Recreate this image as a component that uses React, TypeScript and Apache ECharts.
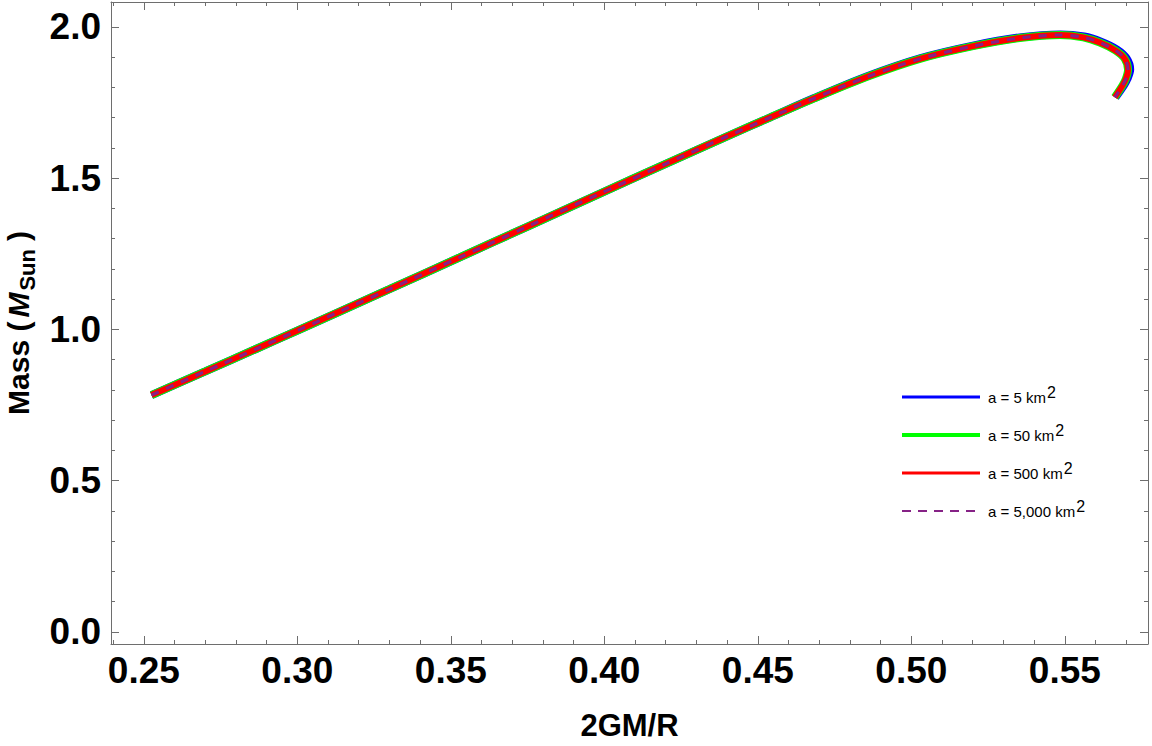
import React, { useEffect, useRef } from 'react';
import * as echarts from 'echarts';

const seriesNames = ['a = 5 km²', 'a = 50 km²', 'a = 500 km²', 'a = 5,000 km²'];

const compactnessA5 = [0.2525, 0.2700, 0.2867, 0.3000, 0.3138, 0.3300, 0.3529, 0.3750, 0.3975, 0.4200, 0.4400, 0.4539, 0.4680, 0.4854, 0.5028, 0.5201, 0.5353, 0.5486, 0.5563, 0.5618, 0.5670, 0.5701, 0.5713, 0.5704, 0.5692, 0.5665];
const massA5 = [0.783, 0.861, 0.936, 0.996, 1.059, 1.133, 1.238, 1.340, 1.444, 1.547, 1.638, 1.700, 1.763, 1.836, 1.896, 1.938, 1.965, 1.975, 1.968, 1.951, 1.925, 1.896, 1.859, 1.828, 1.806, 1.767];

const compactnessA50 = [0.2525, 0.2700, 0.2867, 0.3000, 0.3138, 0.3300, 0.3529, 0.3750, 0.3975, 0.4200, 0.4400, 0.4539, 0.4680, 0.4854, 0.5028, 0.5201, 0.5353, 0.5484, 0.5560, 0.5614, 0.5665, 0.5695, 0.5706, 0.5699, 0.5688, 0.5663];
const massA50 = [0.783, 0.861, 0.936, 0.996, 1.059, 1.133, 1.238, 1.340, 1.444, 1.547, 1.638, 1.700, 1.762, 1.834, 1.894, 1.936, 1.963, 1.973, 1.965, 1.948, 1.922, 1.895, 1.858, 1.828, 1.806, 1.767];

const compactnessA500 = [0.2525, 0.2700, 0.2867, 0.3000, 0.3138, 0.3300, 0.3529, 0.3750, 0.3975, 0.4200, 0.4400, 0.4539, 0.4680, 0.4854, 0.5028, 0.5201, 0.5353, 0.5484, 0.5560, 0.5614, 0.5665, 0.5695, 0.5706, 0.5699, 0.5688, 0.5663];
const massA500 = [0.783, 0.861, 0.936, 0.996, 1.059, 1.133, 1.238, 1.340, 1.444, 1.547, 1.638, 1.700, 1.762, 1.834, 1.894, 1.936, 1.963, 1.973, 1.965, 1.948, 1.922, 1.895, 1.858, 1.828, 1.806, 1.767];

const compactnessA5000 = [0.2525, 0.2700, 0.2867, 0.3000, 0.3138, 0.3300, 0.3529, 0.3750, 0.3975, 0.4200, 0.4400, 0.4539, 0.4680, 0.4854, 0.5028, 0.5201, 0.5353, 0.5484, 0.5560, 0.5614, 0.5665, 0.5695, 0.5706, 0.5699, 0.5688, 0.5663];
const massA5000 = [0.783, 0.861, 0.936, 0.996, 1.059, 1.133, 1.238, 1.340, 1.444, 1.547, 1.638, 1.700, 1.762, 1.834, 1.894, 1.936, 1.963, 1.973, 1.965, 1.948, 1.922, 1.895, 1.858, 1.828, 1.806, 1.767];

const xMajorTicks = [0.25, 0.30, 0.35, 0.40, 0.45, 0.50, 0.55];
const xMinorTicks = [0.24, 0.26, 0.27, 0.28, 0.29, 0.31, 0.32, 0.33, 0.34, 0.36, 0.37, 0.38, 0.39, 0.41, 0.42, 0.43, 0.44, 0.46, 0.47, 0.48, 0.49, 0.51, 0.52, 0.53, 0.54, 0.56, 0.57];
const yMajorTicks = [0.0, 0.5, 1.0, 1.5, 2.0];
const yMinorTicks = [0.1, 0.2, 0.3, 0.4, 0.6, 0.7, 0.8, 0.9, 1.1, 1.2, 1.3, 1.4, 1.6, 1.7, 1.8, 1.9];

const X_MIN = 0.2393;
const X_MAX = 0.5771;
const Y_MIN = -0.0397;
const Y_MAX = 2.082;

const FONT = 'Liberation Sans, Arial, sans-serif';
const FRAME = '#6e6e6e';

const zip = (xs: number[], ys: number[]) => xs.map((x, i) => [x, ys[i]]);

function xAxisDef(position: 'top' | 'bottom', ticks: number[], len: number, main: boolean, labels: boolean) {
  return {
    type: 'value',
    position,
    min: X_MIN,
    max: X_MAX,
    splitLine: { show: false },
    axisLine: { show: main, onZero: false, lineStyle: { color: FRAME, width: 1 } },
    axisTick: { show: true, inside: true, length: len, customValues: ticks, lineStyle: { color: FRAME, width: 1 } },
    axisLabel: labels
      ? {
          show: true,
          customValues: ticks,
          margin: 8,
          formatter: (v: number) => v.toFixed(2),
          fontFamily: FONT,
          fontSize: 37,
          fontWeight: 'bold',
          color: '#000',
        }
      : { show: false },
    ...(labels
      ? {
          name: '2GM/R',
          nameLocation: 'middle',
          nameGap: 66,
          nameTextStyle: { fontFamily: FONT, fontSize: 31, fontWeight: 'bold', color: '#000' },
        }
      : {}),
  };
}

function yAxisDef(position: 'left' | 'right', ticks: number[], len: number, main: boolean, labels: boolean) {
  return {
    type: 'value',
    position,
    min: Y_MIN,
    max: Y_MAX,
    splitLine: { show: false },
    axisLine: { show: main, onZero: false, lineStyle: { color: FRAME, width: 1 } },
    axisTick: { show: true, inside: true, length: len, customValues: ticks, lineStyle: { color: FRAME, width: 1 } },
    axisLabel: labels
      ? {
          show: true,
          customValues: ticks,
          margin: 10,
          formatter: (v: number) => v.toFixed(1),
          fontFamily: FONT,
          fontSize: 37,
          fontWeight: 'bold',
          color: '#000',
        }
      : { show: false },
    ...(labels
      ? {
          name: '{m|Mass (}{i|M}{s|Sun}{m|)}',
          nameLocation: 'middle',
          nameRotate: 90,
          nameGap: 78,
          nameTextStyle: {
            fontFamily: FONT,
            fontSize: 30,
            fontWeight: 'bold',
            color: '#000',
            rich: {
              m: { fontFamily: FONT, fontSize: 30, fontWeight: 'bold', color: '#000', lineHeight: 30, verticalAlign: 'top' },
              i: { fontFamily: FONT, fontSize: 30, fontWeight: 'bold', fontStyle: 'italic', color: '#000', lineHeight: 30, verticalAlign: 'top', padding: [0, 2, 0, 4] },
              s: { fontFamily: FONT, fontSize: 22, fontWeight: 'bold', color: '#000', lineHeight: 22, verticalAlign: 'top', padding: [13, 8, 0, 0] },
            },
          },
        }
      : {}),
  };
}

const hiddenMarker = { color: 'rgba(0,0,0,0)', borderWidth: 0, opacity: 0 };

export default function App() {
  const ref = useRef<HTMLDivElement>(null);

  useEffect(() => {
    if (!ref.current) return;
    const chart = echarts.init(ref.current, undefined, { renderer: 'svg' });

    const option = {
      animation: false,
      backgroundColor: '#ffffff',
      grid: {
        left: 111,
        top: 2,
        width: 1037,
        height: 642,
        containLabel: false,
        outerBoundsMode: 'none',
      },
      xAxis: [
        xAxisDef('bottom', xMajorTicks, 8, true, true),
        xAxisDef('bottom', xMinorTicks, 4, false, false),
        xAxisDef('top', xMajorTicks, 8, true, false),
        xAxisDef('top', xMinorTicks, 4, false, false),
      ],
      yAxis: [
        yAxisDef('left', yMajorTicks, 8, true, true),
        yAxisDef('left', yMinorTicks, 4, false, false),
        yAxisDef('right', yMajorTicks, 8, true, false),
        yAxisDef('right', yMinorTicks, 4, false, false),
      ],
      legend: {
        orient: 'vertical',
        left: 900,
        top: 384,
        padding: 0,
        itemWidth: 78,
        itemHeight: 14,
        itemGap: 17,
        selectedMode: false,
        formatter: (name: string) => '{t|' + name.replace('²', '') + '}{s|2}',
        textStyle: {
          fontFamily: FONT,
          fontSize: 15,
          color: '#000',
          rich: {
            t: { fontFamily: FONT, fontSize: 15, color: '#000', verticalAlign: 'bottom', lineHeight: 16, padding: [0, 0, 0, 3] },
            s: { fontFamily: FONT, fontSize: 16, color: '#000', verticalAlign: 'bottom', lineHeight: 16, padding: [0, 0, 5, 1] },
          },
        },
        data: [
          { name: seriesNames[0], itemStyle: hiddenMarker, lineStyle: { width: 3, color: '#0000ff', type: 'solid' } },
          { name: seriesNames[1], itemStyle: hiddenMarker, lineStyle: { width: 4, color: '#00ff00', type: 'solid' } },
          { name: seriesNames[2], itemStyle: hiddenMarker, lineStyle: { width: 3, color: '#ff0000', type: 'solid' } },
          { name: seriesNames[3], itemStyle: hiddenMarker, lineStyle: { width: 2, color: '#862286', type: [9, 7] } },
        ],
      },
      series: [
        {
          name: seriesNames[0],
          type: 'line',
          xAxisIndex: 0,
          yAxisIndex: 0,
          data: zip(compactnessA5, massA5),
          showSymbol: false,
          symbol: 'none',
          smooth: 0.3,
          lineStyle: { color: '#0000ff', width: 8 },
          itemStyle: { color: '#0000ff' },
          z: 1,
        },
        {
          name: seriesNames[1],
          type: 'line',
          xAxisIndex: 0,
          yAxisIndex: 0,
          data: zip(compactnessA50, massA50),
          showSymbol: false,
          symbol: 'none',
          smooth: 0.3,
          lineStyle: { color: '#00ff00', width: 8 },
          itemStyle: { color: '#00ff00' },
          z: 2,
        },
        {
          name: seriesNames[2],
          type: 'line',
          xAxisIndex: 0,
          yAxisIndex: 0,
          data: zip(compactnessA500, massA500),
          showSymbol: false,
          symbol: 'none',
          smooth: 0.3,
          lineStyle: { color: '#ff0000', width: 6 },
          itemStyle: { color: '#ff0000' },
          z: 3,
        },
        {
          name: seriesNames[3],
          type: 'line',
          xAxisIndex: 0,
          yAxisIndex: 0,
          data: zip(compactnessA5000, massA5000),
          showSymbol: false,
          symbol: 'none',
          smooth: 0.3,
          lineStyle: { color: '#862286', width: 3, type: [8, 8] },
          itemStyle: { color: '#862286' },
          z: 4,
        },
      ],
    };

    chart.setOption(option as any);
    return () => {
      chart.dispose();
    };
  }, []);

  return (
    <div
      ref={ref}
      style={{ position: 'fixed', left: 0, top: 0, width: 1152, height: 746, background: '#fff' }}
    />
  );
}
